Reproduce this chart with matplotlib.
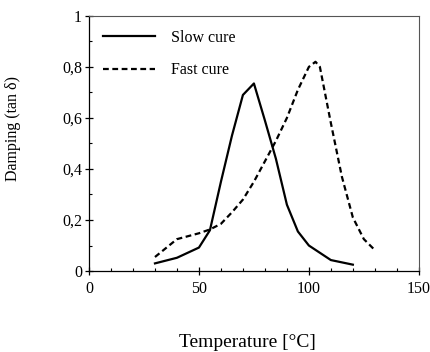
import matplotlib
matplotlib.use("Agg")
import matplotlib.pyplot as plt
from matplotlib.ticker import FixedLocator, FixedFormatter, MultipleLocator

plt.rcParams['font.family'] = ['Liberation Serif', 'DejaVu Serif']

# Damping (tan delta) versus temperature for two cure schedules
slow_temp = [30, 40, 50, 55, 60, 65, 70, 75, 80, 85, 90, 95, 100, 110, 120]
slow_tan = [0.03, 0.052, 0.092, 0.16, 0.35, 0.53, 0.69, 0.735, 0.59, 0.44,
            0.26, 0.155, 0.10, 0.043, 0.025]

fast_temp = [30, 40, 50, 55, 60, 65, 70, 75, 80, 85, 90, 95, 100, 103, 105,
             110, 115, 120, 125, 130]
fast_tan = [0.055, 0.125, 0.148, 0.163, 0.185, 0.23, 0.28, 0.35, 0.43, 0.51,
            0.60, 0.71, 0.80, 0.82, 0.80, 0.58, 0.37, 0.21, 0.125, 0.082]

x_ticks = [0, 50, 100, 150]
x_tick_labels = ['0', '50', '100', '150']
y_ticks = [0, 0.2, 0.4, 0.6, 0.8, 1.0]
y_tick_labels = ['0', '0,2', '0,4', '0,6', '0,8', '1']

fig = plt.figure(figsize=(4.30, 3.52), dpi=100)
ax = fig.add_axes([0.207, 0.230, 0.767, 0.725])

ax.plot(slow_temp, slow_tan, color='black', lw=1.6, ls='-', label='Slow cure')
ax.plot(fast_temp, fast_tan, color='black', lw=1.6, ls=(0, (2.6, 1.6)),
        label='Fast cure')

ax.set_xlim(0, 150)
ax.set_ylim(0, 1)

ax.xaxis.set_major_locator(FixedLocator(x_ticks))
ax.xaxis.set_major_formatter(FixedFormatter(x_tick_labels))
ax.yaxis.set_major_locator(FixedLocator(y_ticks))
ax.yaxis.set_major_formatter(FixedFormatter(y_tick_labels))
ax.xaxis.set_minor_locator(MultipleLocator(10))
ax.yaxis.set_minor_locator(MultipleLocator(0.1))

ax.tick_params(which='major', direction='inout', length=6, width=0.9,
               labelsize=11.5, colors='black')
ax.tick_params(axis='x', which='major', pad=4)
ax.tick_params(axis='y', which='major', pad=2)
ax.tick_params(which='minor', direction='in', length=2.5, width=0.8)

for side in ('left', 'bottom'):
    ax.spines[side].set_linewidth(0.9)
    ax.spines[side].set_color('black')
for side in ('top', 'right'):
    ax.spines[side].set_linewidth(0.8)
    ax.spines[side].set_color('#555555')

ax.set_xlabel('Temperature [°C]', fontsize=14)
ax.xaxis.set_label_coords(0.48, -0.245)
ax.set_ylabel('Damping (tan δ)', fontsize=11.5)
ax.yaxis.set_label_coords(-0.205, 0.557)

leg = ax.legend(loc='upper left', bbox_to_anchor=(0.0415, 0.946),
                frameon=False, fontsize=11.5, handlelength=3.3,
                handletextpad=1.0, labelspacing=1.05, borderpad=0,
                borderaxespad=0)

fig.savefig('out.png', dpi=100)
